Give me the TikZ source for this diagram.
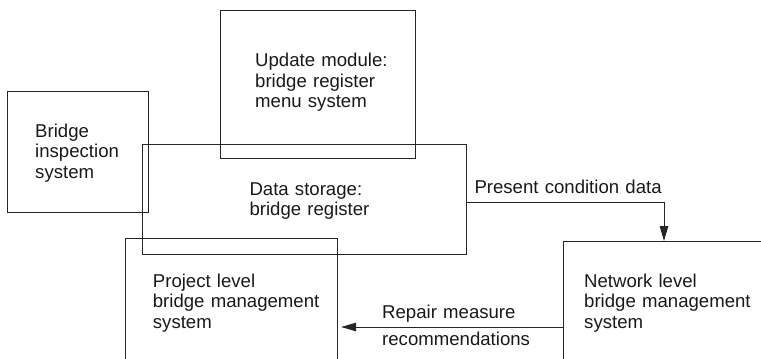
\documentclass[tikz,border=0pt]{standalone}
\usepackage{fontspec}
\setmainfont{Liberation Sans}
\usetikzlibrary{arrows.meta}

\tikzset{
  box/.style={draw=black!85, line width=1.1pt, inner sep=0pt, anchor=north west},
  label text/.style={inner sep=0pt, anchor=base west, align=left, text width=#1,
    font=\fontsize{18.6}{20.5}\selectfont, text=black!90},
  label text/.default=220pt,
  flow/.style={draw=black!85, line width=0.9pt, -{Triangle[length=15pt,width=8.5pt]}}
}

\begin{document}
\begin{tikzpicture}[x=1pt, y=-1pt]
  \clip (0,0) rectangle (761,359);
  \useasboundingbox (0,0) rectangle (761,359);

  % boxes (the last two run off the bottom and right edges)
  \node[box, minimum width=141pt, minimum height=121pt] (insp) at (7,91) {};
  \node[box, minimum width=195pt, minimum height=148.5pt] (upd) at (220,9.5) {};
  \node[box, minimum width=324pt, minimum height=110pt] (store) at (142,144) {};
  \node[box, minimum width=212pt, minimum height=140pt] (proj) at (125,238) {};
  \node[box, minimum width=220pt, minimum height=140pt] (net) at (563,241) {};

  % box contents
  \node[label text] (insptxt) at (35,137.3) {Bridge\\inspection\\system};
  \node[label text] (updtxt) at (255,66.5) {Update module:\\bridge register\\menu system};
  \node[label text] (storetxt) at (249.3,195.3) {Data storage:\\bridge register};
  \node[label text] (projtxt) at (152.7,287.3) {Project level\\bridge management\\system};
  \node[label text] (nettxt) at (584,287.3) {Network level\\bridge management\\system};

  % data flows
  \coordinate (bend) at (664,202);
  \draw[flow] (store.east |- bend) -- (bend) -- (bend |- net.north);
  \node[label text] (condlbl) at (474.3,193.3) {Present condition data};

  \coordinate (rep) at (563,327);
  \draw[flow, shorten >=3pt] (rep) -- (proj.east |- rep);
  \node[label text] (replbl1) at (382,318) {Repair measure};
  \node[label text] (replbl2) at (382,345) {recommendations};
\end{tikzpicture}
\end{document}
